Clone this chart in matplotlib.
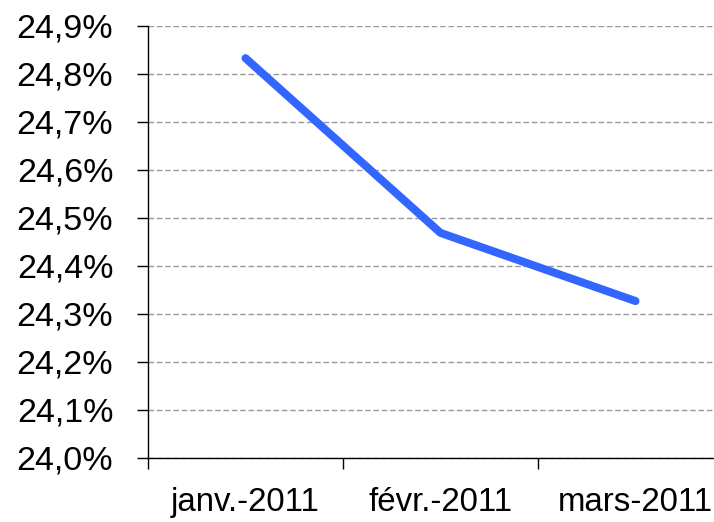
import matplotlib.pyplot as plt
from matplotlib.ticker import FuncFormatter

months = ["janv.-2011", "févr.-2011", "mars-2011"]
rates = [24.833, 24.469, 24.327]
y_ticks = [24.0, 24.1, 24.2, 24.3, 24.4, 24.5, 24.6, 24.7, 24.8, 24.9]

plt.rcParams["font.family"] = ["Liberation Sans", "DejaVu Sans"]

fig = plt.figure(figsize=(7.14, 5.22), dpi=100)
# axes extends past the right edge, as in the cropped original
ax = fig.add_axes([148 / 714, 64 / 522, 585 / 714, 432 / 522])

x = list(range(len(months)))
ax.plot(x, rates, color="#3366ff", linewidth=5.8, solid_capstyle="round", zorder=3)

ax.set_xlim(-0.5, len(months) - 0.5)
ax.set_ylim(24.0, 24.9)
ax.set_yticks(y_ticks)
ax.yaxis.set_major_formatter(FuncFormatter(lambda v, _: f"{v:.1f}%".replace(".", ",")))
ax.set_xticks(x)
ax.set_xticklabels(months)
ax.set_xticks([-0.5, 0.5, 1.5, 2.5], minor=True)

ax.yaxis.grid(True, color="#999999", linestyle=(0, (4, 2)), linewidth=1)
ax.set_axisbelow(True)

for side in ("top", "right"):
    ax.spines[side].set_visible(False)
for side in ("left", "bottom"):
    ax.spines[side].set_linewidth(1)
    ax.spines[side].set_color("black")

ax.tick_params(axis="y", direction="out", length=8, width=1, pad=17, labelsize=24.5)
ax.tick_params(axis="x", which="major", length=0, pad=21, labelsize=23.8)
ax.tick_params(axis="x", which="minor", direction="out", length=8, width=1)

fig.savefig("out.png", dpi=100)
